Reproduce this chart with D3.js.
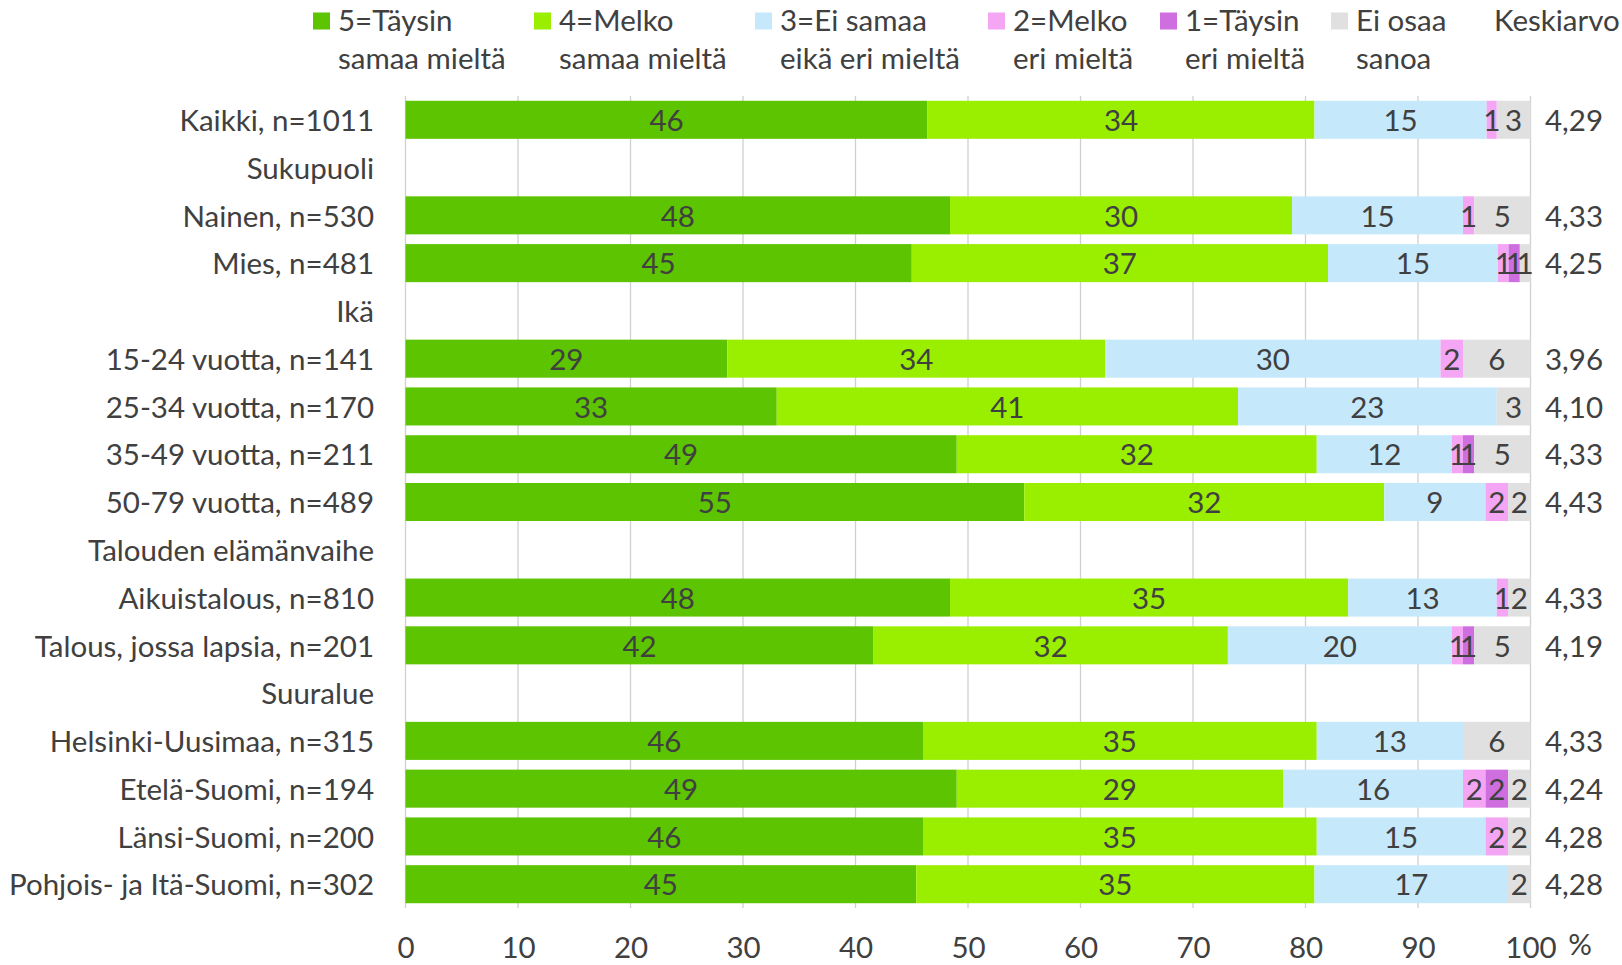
<!DOCTYPE html>
<html>
<head>
<meta charset="utf-8">
<script src="https://cdn.jsdelivr.net/npm/d3@7"></script>
<style>
  html, body { margin: 0; padding: 0; background: #fff; }
  svg { display: block; font-family: Lato, "Open Sans", sans-serif; }
</style>
</head>
<body>
<svg id="chart" width="1622" height="965"></svg>
<script>
// ---------------- DATA ----------------
const categories = [
  "Kaikki, n=1011", "Sukupuoli", "Nainen, n=530", "Mies, n=481", "Ikä",
  "15-24 vuotta, n=141", "25-34 vuotta, n=170", "35-49 vuotta, n=211", "50-79 vuotta, n=489",
  "Talouden elämänvaihe", "Aikuistalous, n=810", "Talous, jossa lapsia, n=201",
  "Suuralue", "Helsinki-Uusimaa, n=315", "Etelä-Suomi, n=194", "Länsi-Suomi, n=200",
  "Pohjois- ja Itä-Suomi, n=302"
];

// values in %, null = header row (no bar)
const s5 = [46.4, null, 48.4, 45.0, null, 28.6, 33.0, 49.0, 55.0, null, 48.4, 41.6, null, 46.0, 49.0, 46.0, 45.4];
const s4 = [34.4, null, 30.4, 37.0, null, 33.6, 41.0, 32.0, 32.0, null, 35.4, 31.5, null, 35.0, 29.0, 35.0, 35.4];
const s3 = [15.3, null, 15.2, 15.1, null, 29.8, 23.0, 12.0, 9.0, null, 13.2, 19.9, null, 13.0, 16.0, 15.0, 17.2];
const s2 = [0.9, null, 1.0, 0.95, null, 2.0, 0, 1.0, 2.0, null, 1.0, 1.0, null, 0, 2.0, 2.0, 0];
const s1 = [0, null, 0, 1.0, null, 0, 0, 1.0, 0, null, 0, 1.0, null, 0, 2.0, 0, 0];
const sEos = [3.0, null, 5.0, 0.95, null, 6.0, 3.0, 5.0, 2.0, null, 2.0, 5.0, null, 6.0, 2.0, 2.0, 2.0];
const means = ["4,29", null, "4,33", "4,25", null, "3,96", "4,10", "4,33", "4,43", null, "4,33", "4,19", null, "4,33", "4,24", "4,28", "4,28"];

const seriesNames = [
  ["5=Täysin", "samaa mieltä"],
  ["4=Melko", "samaa mieltä"],
  ["3=Ei samaa", "eikä eri mieltä"],
  ["2=Melko", "eri mieltä"],
  ["1=Täysin", "eri mieltä"],
  ["Ei osaa", "sanoa"]
];
const meanHeader = "Keskiarvo";
const xTicks = [0, 10, 20, 30, 40, 50, 60, 70, 80, 90, 100];
const xUnit = "%";

// ---------------- STYLE ----------------
const colors = ["#5cc400", "#9aef00", "#c5e9fb", "#f4a5f4", "#cf6fdf", "#e0e0e0"];
const textColor = "#404040";
const fontSize = 29.5;

const series = [s5, s4, s3, s2, s1, sEos];

const svg = d3.select("#chart");

const x = d3.scaleLinear().domain([0, 100]).range([405.5, 1530.5]);
const y = d3.scaleBand().domain(categories).range([96, 908]).paddingInner(0.204).paddingOuter(0.1);

// gridlines
svg.append("g").selectAll("line").data(xTicks).join("line")
  .attr("x1", d => x(d)).attr("x2", d => x(d))
  .attr("y1", 96).attr("y2", 908)
  .attr("stroke", "#d0d0d0").attr("stroke-width", 1.3);

// stacked segments
const rows = categories.map((c, i) => {
  let acc = 0;
  const segs = [];
  series.forEach((s, k) => {
    const v = s[i];
    if (v === null) return;
    segs.push({ cat: c, k, v, x0: acc, x1: acc + v });
    acc += v;
  });
  return segs;
});
const segs = rows.flat();

svg.append("g").selectAll("rect").data(segs.filter(d => d.v > 0)).join("rect")
  .attr("x", d => x(d.x0))
  .attr("width", d => x(d.x1) - x(d.x0))
  .attr("y", d => y(d.cat))
  .attr("height", y.bandwidth())
  .attr("fill", d => colors[d.k]);

// data labels
svg.append("g").selectAll("text").data(segs.filter(d => Math.round(d.v) > 0)).join("text")
  .attr("x", d => (x(d.x0) + x(d.x1)) / 2)
  .attr("y", d => y(d.cat) + y.bandwidth() / 2)
  .attr("dy", "0.38em")
  .attr("text-anchor", "middle")
  .attr("font-size", fontSize)
  .attr("fill", textColor)
  .text(d => Math.round(d.v));

// category labels
svg.append("g").selectAll("text").data(categories).join("text")
  .attr("x", 374)
  .attr("y", d => y(d) + y.bandwidth() / 2)
  .attr("dy", "0.38em")
  .attr("text-anchor", "end")
  .attr("font-size", fontSize)
  .attr("fill", textColor)
  .text(d => d);

// means
svg.append("g").selectAll("text").data(categories.map((c, i) => ({ c, m: means[i] })).filter(d => d.m))
  .join("text")
  .attr("x", 1574)
  .attr("y", d => y(d.c) + y.bandwidth() / 2)
  .attr("dy", "0.38em")
  .attr("text-anchor", "middle")
  .attr("font-size", fontSize)
  .attr("fill", textColor)
  .text(d => d.m);

// x axis
const xAxis = d3.axisBottom(x).tickValues(xTicks).tickSize(0).tickPadding(0).tickFormat(d3.format("d"));
const gx = svg.append("g").attr("transform", "translate(0,937)").call(xAxis);
gx.select(".domain").remove();
gx.selectAll("text").attr("font-size", fontSize).attr("fill", textColor)
  .attr("font-family", "Lato, 'Open Sans', sans-serif").attr("dy", "0.71em");
svg.append("text").attr("x", 1580).attr("y", 944).attr("dy", "0.36em")
  .attr("text-anchor", "middle").attr("font-size", fontSize).attr("fill", textColor).text(xUnit);

// legend
const legendX = [313, 534, 755, 988, 1160, 1331];
const lg = svg.append("g").selectAll("g").data(seriesNames).join("g")
  .attr("transform", (d, i) => `translate(${legendX[i]},0)`);
lg.append("rect").attr("x", 0).attr("y", 12.5).attr("width", 17).attr("height", 17)
  .attr("fill", (d, i) => colors[i]);
lg.append("text").attr("x", 25).attr("y", 31).attr("font-size", fontSize).attr("fill", textColor)
  .text(d => d[0]);
lg.append("text").attr("x", 25).attr("y", 69).attr("font-size", fontSize).attr("fill", textColor)
  .text(d => d[1]);
svg.append("text").attr("x", 1494).attr("y", 31).attr("font-size", fontSize).attr("fill", textColor)
  .text(meanHeader);
</script>
</body>
</html>
